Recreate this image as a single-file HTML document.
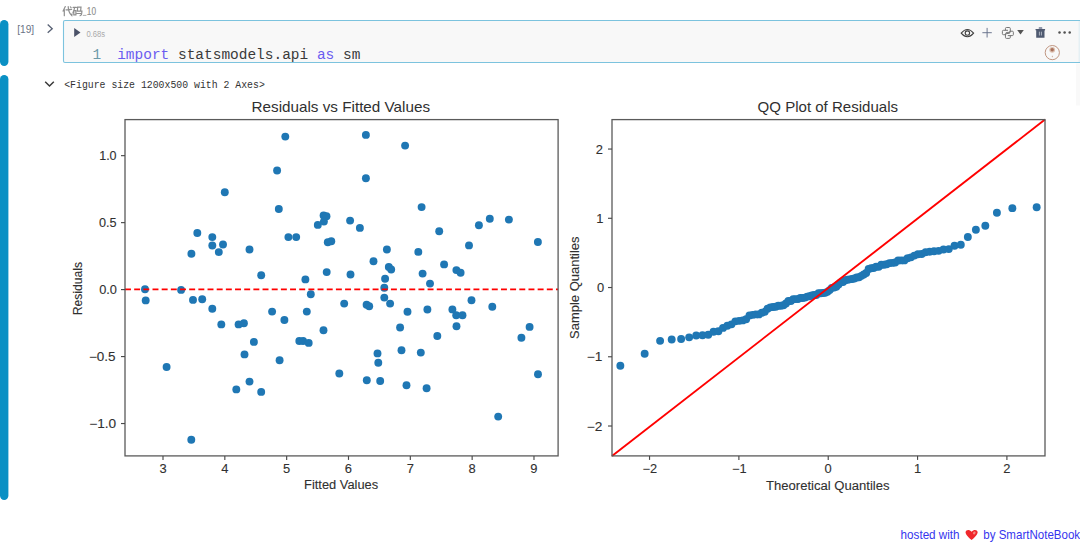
<!DOCTYPE html>
<html><head><meta charset="utf-8"><title>notebook</title>
<style>
html,body{margin:0;padding:0;background:#fff;width:1080px;height:543px;overflow:hidden;}
svg{position:absolute;left:0;top:0;display:block;}
</style></head>
<body>
<svg width="1080" height="543" viewBox="0 0 1080 543">

<rect x="0" y="20" width="8.4" height="46" rx="4.2" fill="#0a90c4"/>
<rect x="0" y="75" width="8.4" height="425" rx="4.2" fill="#0a90c4"/>
<text x="17.2" y="33.1" font-family="Liberation Sans" font-size="11" fill="#6b7385" textLength="17" lengthAdjust="spacingAndGlyphs">[19]</text>
<polyline points="47.7,24.6 52.2,28.7 47.7,32.8" fill="none" stroke="#5a6376" stroke-width="1.35"/>
<g fill="none" stroke="#8e8e8e" stroke-width="1.2" stroke-linecap="round">
  <path d="M65.3,6.6 L63.1,11.1 M64.3,9.6 L64.3,15.7 M66.0,9.8 L71.6,9.3 M68.2,6.6 Q68.5,12.8 71.8,15.6 L72.0,13.9 M70.4,6.9 L71.1,7.6"/>
  <path d="M73.1,7.4 L76.2,7.4 M74.6,7.5 Q74.1,10.6 73.0,12.6 M73.8,10.7 H75.9 V14.9 H73.8 Z M77.3,7.2 H81.0 L80.7,10.3 M77.6,7.3 L77.4,11.1 H81.9 Q81.9,15.7 80.1,15.7 M76.9,13.5 H80.8"/>
</g>
<rect x="82.8" y="14.9" width="3.6" height="0.8" fill="#9a9a9a"/>
<text x="86.8" y="14.8" font-family="Liberation Sans" font-size="10" fill="#8e8e8e" stroke="#8e8e8e" stroke-width="0.15" textLength="9.2" lengthAdjust="spacingAndGlyphs">10</text>
<rect x="63.5" y="20.5" width="1030" height="42" rx="1.5" fill="#f8f8f8" stroke="#7cc3de" stroke-width="1.1"/>
<line x1="1079.2" y1="21" x2="1079.2" y2="62" stroke="#dcecf2" stroke-width="1"/>
<rect x="1076" y="63.5" width="4" height="42" fill="#f9f9f9"/>
<polygon points="74.2,28 80.5,32.5 74.2,37" fill="#4b5268"/>
<text x="86.4" y="37.3" font-family="Liberation Sans" font-size="9.2" fill="#a9a9a9" textLength="18.6" lengthAdjust="spacingAndGlyphs">0.68s</text>
<text x="92.4" y="59.4" font-family="Liberation Mono" font-size="14.47" fill="#6d9aa9">1</text>
<text x="117.2" y="59.4" font-family="Liberation Mono" font-size="14.47" fill="#3a3a3a" xml:space="preserve"><tspan fill="#6b5cf0">import</tspan> statsmodels.api <tspan fill="#6b5cf0">as</tspan> sm</text>
<!-- toolbar icons -->
<g fill="none" stroke="#404040" stroke-width="1.1">
  <path d="M961.2,33.1 Q967.4,25.8 973.6,33.1 Q967.4,40.4 961.2,33.1 Z"/>
  <circle cx="967.4" cy="33.1" r="2.2"/>
</g>
<g stroke="#66708a" stroke-width="0.95">
  <line x1="982.4" y1="32.7" x2="991.8" y2="32.7"/>
  <line x1="987.1" y1="27.9" x2="987.1" y2="37.5"/>
</g>
<g fill="none" stroke="#707070" stroke-width="0.95">
  <path d="M1005.45,30.3 V28.5 Q1005.45,27.5 1006.45,27.5 H1009.3 Q1010.3,27.5 1010.3,28.5 V31.4 Q1010.3,32.4 1009.3,32.4 H1006.9 Q1005.9,32.4 1005.9,33.4 V34.7 H1003.4 Q1002.4,34.7 1002.4,33.7 V31.3 Q1002.4,30.3 1003.4,30.3 H1008"/>
  <path d="M1010.3,35.6 V37.4 Q1010.3,38.4 1009.3,38.4 H1006.45 Q1005.45,38.4 1005.45,37.4 V34.5 Q1005.45,33.5 1006.45,33.5 H1008.85 Q1009.85,33.5 1009.85,32.5 V31.2 H1012.35 Q1013.35,31.2 1013.35,32.2 V34.6 Q1013.35,35.6 1012.35,35.6 H1007.75"/>
</g>
<polygon points="1017.2,30 1023.8,30 1020.5,34.5" fill="#555"/>
<g fill="#4f5a70">
  <rect x="1035.5" y="28.9" width="9.6" height="1.3" rx="0.3"/>
  <rect x="1038.7" y="27.2" width="3.6" height="1.6" rx="0.5" fill="#6f7890"/>
  <rect x="1036.2" y="29.8" width="8.3" height="8.0" rx="0.4"/>
</g>
<g stroke="#cfd3dc" stroke-width="0.75"><line x1="1039.4" y1="31.7" x2="1039.4" y2="35.5"/><line x1="1041.4" y1="31.7" x2="1041.4" y2="35.5"/></g>
<g fill="#505050"><circle cx="1059.5" cy="32.6" r="1.25"/><circle cx="1064.6" cy="32.6" r="1.25"/><circle cx="1069.7" cy="32.6" r="1.25"/></g>
<circle cx="1052.3" cy="52.6" r="7.1" fill="none" stroke="#b98a73" stroke-width="0.9"/>
<circle cx="1052.2" cy="49.8" r="2.9" fill="#dcc0b0"/>
<circle cx="1052.2" cy="49.8" r="1.7" fill="#a8705a"/>
<rect x="1051.9" y="55.8" width="0.7" height="1.4" fill="#b98a73"/>
<polyline points="45.2,81.8 49.5,86 53.8,81.8" fill="none" stroke="#3a3a3a" stroke-width="1.5"/>
<text x="64.2" y="87.9" font-family="Liberation Mono" font-size="11" fill="#333" textLength="200.6" lengthAdjust="spacingAndGlyphs">&lt;Figure size 1200x500 with 2 Axes&gt;</text>
<text x="900.6" y="538.5" font-family="Liberation Sans" font-size="12.2" fill="#3535ee" textLength="59" lengthAdjust="spacingAndGlyphs">hosted with</text>
<path d="M971.6,540 C966,535.5 965.4,533.2 965.6,532 C965.9,529.6 969.4,529 971.6,531.8 C973.8,529 977.3,529.6 977.6,532 C977.8,533.2 977.2,535.5 971.6,540 Z" fill="#f0282c"/>
<ellipse cx="974.3" cy="532.9" rx="1.2" ry="1.5" fill="#f48a80" transform="rotate(30 974.3 532.9)"/>
<text x="983.3" y="538.5" font-family="Liberation Sans" font-size="12.2" fill="#3535ee" textLength="96.8" lengthAdjust="spacingAndGlyphs">by SmartNoteBook</text>

<circle cx="285.30" cy="136.60" r="3.95" fill="#1f77b4"/>
<circle cx="277.10" cy="170.50" r="3.95" fill="#1f77b4"/>
<circle cx="224.80" cy="192.20" r="3.95" fill="#1f77b4"/>
<circle cx="278.80" cy="209.00" r="3.95" fill="#1f77b4"/>
<circle cx="323.60" cy="215.40" r="3.95" fill="#1f77b4"/>
<circle cx="326.50" cy="216.20" r="3.95" fill="#1f77b4"/>
<circle cx="323.90" cy="221.60" r="3.95" fill="#1f77b4"/>
<circle cx="317.80" cy="224.90" r="3.95" fill="#1f77b4"/>
<circle cx="350.10" cy="220.60" r="3.95" fill="#1f77b4"/>
<circle cx="365.90" cy="134.90" r="3.95" fill="#1f77b4"/>
<circle cx="405.10" cy="145.60" r="3.95" fill="#1f77b4"/>
<circle cx="365.90" cy="178.20" r="3.95" fill="#1f77b4"/>
<circle cx="421.60" cy="207.10" r="3.95" fill="#1f77b4"/>
<circle cx="359.90" cy="227.90" r="3.95" fill="#1f77b4"/>
<circle cx="439.20" cy="231.30" r="3.95" fill="#1f77b4"/>
<circle cx="478.90" cy="225.30" r="3.95" fill="#1f77b4"/>
<circle cx="489.80" cy="218.80" r="3.95" fill="#1f77b4"/>
<circle cx="508.90" cy="219.60" r="3.95" fill="#1f77b4"/>
<circle cx="197.30" cy="233.00" r="3.95" fill="#1f77b4"/>
<circle cx="212.30" cy="237.10" r="3.95" fill="#1f77b4"/>
<circle cx="212.30" cy="245.50" r="3.95" fill="#1f77b4"/>
<circle cx="223.00" cy="244.50" r="3.95" fill="#1f77b4"/>
<circle cx="218.80" cy="252.10" r="3.95" fill="#1f77b4"/>
<circle cx="191.40" cy="253.80" r="3.95" fill="#1f77b4"/>
<circle cx="249.50" cy="249.50" r="3.95" fill="#1f77b4"/>
<circle cx="288.40" cy="237.10" r="3.95" fill="#1f77b4"/>
<circle cx="296.20" cy="237.10" r="3.95" fill="#1f77b4"/>
<circle cx="327.80" cy="242.30" r="3.95" fill="#1f77b4"/>
<circle cx="331.30" cy="241.30" r="3.95" fill="#1f77b4"/>
<circle cx="261.20" cy="275.20" r="3.95" fill="#1f77b4"/>
<circle cx="305.40" cy="279.40" r="3.95" fill="#1f77b4"/>
<circle cx="326.70" cy="272.10" r="3.95" fill="#1f77b4"/>
<circle cx="350.50" cy="274.50" r="3.95" fill="#1f77b4"/>
<circle cx="145.00" cy="289.30" r="3.95" fill="#1f77b4"/>
<circle cx="145.70" cy="300.40" r="3.95" fill="#1f77b4"/>
<circle cx="181.10" cy="289.90" r="3.95" fill="#1f77b4"/>
<circle cx="193.00" cy="299.90" r="3.95" fill="#1f77b4"/>
<circle cx="202.20" cy="299.30" r="3.95" fill="#1f77b4"/>
<circle cx="212.30" cy="308.70" r="3.95" fill="#1f77b4"/>
<circle cx="221.30" cy="324.40" r="3.95" fill="#1f77b4"/>
<circle cx="238.60" cy="324.40" r="3.95" fill="#1f77b4"/>
<circle cx="243.90" cy="323.30" r="3.95" fill="#1f77b4"/>
<circle cx="272.10" cy="311.60" r="3.95" fill="#1f77b4"/>
<circle cx="284.40" cy="320.00" r="3.95" fill="#1f77b4"/>
<circle cx="310.80" cy="294.30" r="3.95" fill="#1f77b4"/>
<circle cx="306.80" cy="311.60" r="3.95" fill="#1f77b4"/>
<circle cx="344.20" cy="303.60" r="3.95" fill="#1f77b4"/>
<circle cx="323.50" cy="330.20" r="3.95" fill="#1f77b4"/>
<circle cx="537.90" cy="242.00" r="3.95" fill="#1f77b4"/>
<circle cx="386.90" cy="249.50" r="3.95" fill="#1f77b4"/>
<circle cx="418.30" cy="251.90" r="3.95" fill="#1f77b4"/>
<circle cx="469.00" cy="245.40" r="3.95" fill="#1f77b4"/>
<circle cx="373.50" cy="261.30" r="3.95" fill="#1f77b4"/>
<circle cx="388.80" cy="266.90" r="3.95" fill="#1f77b4"/>
<circle cx="391.20" cy="269.50" r="3.95" fill="#1f77b4"/>
<circle cx="444.10" cy="264.40" r="3.95" fill="#1f77b4"/>
<circle cx="456.40" cy="270.10" r="3.95" fill="#1f77b4"/>
<circle cx="460.60" cy="272.80" r="3.95" fill="#1f77b4"/>
<circle cx="422.60" cy="273.60" r="3.95" fill="#1f77b4"/>
<circle cx="385.10" cy="278.70" r="3.95" fill="#1f77b4"/>
<circle cx="430.00" cy="283.60" r="3.95" fill="#1f77b4"/>
<circle cx="384.30" cy="287.70" r="3.95" fill="#1f77b4"/>
<circle cx="384.30" cy="297.60" r="3.95" fill="#1f77b4"/>
<circle cx="390.10" cy="303.60" r="3.95" fill="#1f77b4"/>
<circle cx="366.60" cy="304.80" r="3.95" fill="#1f77b4"/>
<circle cx="369.20" cy="306.20" r="3.95" fill="#1f77b4"/>
<circle cx="407.50" cy="311.80" r="3.95" fill="#1f77b4"/>
<circle cx="427.40" cy="309.50" r="3.95" fill="#1f77b4"/>
<circle cx="452.40" cy="309.40" r="3.95" fill="#1f77b4"/>
<circle cx="456.20" cy="315.30" r="3.95" fill="#1f77b4"/>
<circle cx="462.50" cy="315.20" r="3.95" fill="#1f77b4"/>
<circle cx="471.50" cy="300.20" r="3.95" fill="#1f77b4"/>
<circle cx="492.30" cy="306.80" r="3.95" fill="#1f77b4"/>
<circle cx="400.10" cy="327.50" r="3.95" fill="#1f77b4"/>
<circle cx="456.50" cy="326.20" r="3.95" fill="#1f77b4"/>
<circle cx="529.60" cy="326.90" r="3.95" fill="#1f77b4"/>
<circle cx="253.90" cy="341.90" r="3.95" fill="#1f77b4"/>
<circle cx="299.30" cy="341.00" r="3.95" fill="#1f77b4"/>
<circle cx="303.10" cy="341.00" r="3.95" fill="#1f77b4"/>
<circle cx="308.70" cy="342.90" r="3.95" fill="#1f77b4"/>
<circle cx="244.50" cy="354.40" r="3.95" fill="#1f77b4"/>
<circle cx="279.60" cy="360.20" r="3.95" fill="#1f77b4"/>
<circle cx="166.60" cy="367.00" r="3.95" fill="#1f77b4"/>
<circle cx="339.30" cy="373.50" r="3.95" fill="#1f77b4"/>
<circle cx="249.50" cy="381.60" r="3.95" fill="#1f77b4"/>
<circle cx="236.30" cy="389.40" r="3.95" fill="#1f77b4"/>
<circle cx="261.20" cy="391.90" r="3.95" fill="#1f77b4"/>
<circle cx="191.30" cy="439.80" r="3.95" fill="#1f77b4"/>
<circle cx="437.30" cy="336.00" r="3.95" fill="#1f77b4"/>
<circle cx="521.40" cy="337.70" r="3.95" fill="#1f77b4"/>
<circle cx="377.50" cy="353.40" r="3.95" fill="#1f77b4"/>
<circle cx="378.30" cy="362.80" r="3.95" fill="#1f77b4"/>
<circle cx="401.50" cy="350.30" r="3.95" fill="#1f77b4"/>
<circle cx="420.80" cy="352.60" r="3.95" fill="#1f77b4"/>
<circle cx="366.80" cy="380.20" r="3.95" fill="#1f77b4"/>
<circle cx="380.20" cy="381.00" r="3.95" fill="#1f77b4"/>
<circle cx="406.50" cy="385.20" r="3.95" fill="#1f77b4"/>
<circle cx="426.60" cy="388.30" r="3.95" fill="#1f77b4"/>
<circle cx="538.00" cy="374.30" r="3.95" fill="#1f77b4"/>
<circle cx="498.20" cy="416.60" r="3.95" fill="#1f77b4"/>
<line x1="125.0" y1="289.35" x2="558.1" y2="289.35" stroke="#ff0000" stroke-width="1.9" stroke-dasharray="5.95 3.22"/>
<rect x="125.0" y="119.6" width="433.10" height="336.30" fill="none" stroke="#5a5a5a" stroke-width="1.3"/>
<line x1="163.00" y1="455.9" x2="163.00" y2="459.90" stroke="#4a4a4a" stroke-width="1.15"/>
<text x="163.00" y="472.60" font-family="Liberation Sans" font-size="12" fill="#303030" stroke="#303030" stroke-width="0.1" text-anchor="middle" textLength="7.20" lengthAdjust="spacingAndGlyphs" >3</text>
<line x1="224.83" y1="455.9" x2="224.83" y2="459.90" stroke="#4a4a4a" stroke-width="1.15"/>
<text x="224.83" y="472.60" font-family="Liberation Sans" font-size="12" fill="#303030" stroke="#303030" stroke-width="0.1" text-anchor="middle" textLength="7.20" lengthAdjust="spacingAndGlyphs" >4</text>
<line x1="286.66" y1="455.9" x2="286.66" y2="459.90" stroke="#4a4a4a" stroke-width="1.15"/>
<text x="286.66" y="472.60" font-family="Liberation Sans" font-size="12" fill="#303030" stroke="#303030" stroke-width="0.1" text-anchor="middle" textLength="7.20" lengthAdjust="spacingAndGlyphs" >5</text>
<line x1="348.49" y1="455.9" x2="348.49" y2="459.90" stroke="#4a4a4a" stroke-width="1.15"/>
<text x="348.49" y="472.60" font-family="Liberation Sans" font-size="12" fill="#303030" stroke="#303030" stroke-width="0.1" text-anchor="middle" textLength="7.20" lengthAdjust="spacingAndGlyphs" >6</text>
<line x1="410.32" y1="455.9" x2="410.32" y2="459.90" stroke="#4a4a4a" stroke-width="1.15"/>
<text x="410.32" y="472.60" font-family="Liberation Sans" font-size="12" fill="#303030" stroke="#303030" stroke-width="0.1" text-anchor="middle" textLength="7.20" lengthAdjust="spacingAndGlyphs" >7</text>
<line x1="472.15" y1="455.9" x2="472.15" y2="459.90" stroke="#4a4a4a" stroke-width="1.15"/>
<text x="472.15" y="472.60" font-family="Liberation Sans" font-size="12" fill="#303030" stroke="#303030" stroke-width="0.1" text-anchor="middle" textLength="7.20" lengthAdjust="spacingAndGlyphs" >8</text>
<line x1="533.98" y1="455.9" x2="533.98" y2="459.90" stroke="#4a4a4a" stroke-width="1.15"/>
<text x="533.98" y="472.60" font-family="Liberation Sans" font-size="12" fill="#303030" stroke="#303030" stroke-width="0.1" text-anchor="middle" textLength="7.20" lengthAdjust="spacingAndGlyphs" >9</text>
<line x1="121.00" y1="155.66" x2="125.0" y2="155.66" stroke="#4a4a4a" stroke-width="1.15"/>
<text x="116.60" y="159.86" font-family="Liberation Sans" font-size="12" fill="#303030" stroke="#303030" stroke-width="0.1" text-anchor="end" textLength="17.40" lengthAdjust="spacingAndGlyphs" >1.0</text>
<line x1="121.00" y1="222.63" x2="125.0" y2="222.63" stroke="#4a4a4a" stroke-width="1.15"/>
<text x="116.60" y="226.83" font-family="Liberation Sans" font-size="12" fill="#303030" stroke="#303030" stroke-width="0.1" text-anchor="end" textLength="17.60" lengthAdjust="spacingAndGlyphs" >0.5</text>
<line x1="121.00" y1="289.60" x2="125.0" y2="289.60" stroke="#4a4a4a" stroke-width="1.15"/>
<text x="117.00" y="293.80" font-family="Liberation Sans" font-size="12" fill="#303030" stroke="#303030" stroke-width="0.1" text-anchor="end" textLength="17.80" lengthAdjust="spacingAndGlyphs" >0.0</text>
<line x1="121.00" y1="356.57" x2="125.0" y2="356.57" stroke="#4a4a4a" stroke-width="1.15"/>
<text x="115.60" y="360.77" font-family="Liberation Sans" font-size="12" fill="#303030" stroke="#303030" stroke-width="0.1" text-anchor="end" textLength="26.60" lengthAdjust="spacingAndGlyphs" >−0.5</text>
<line x1="121.00" y1="423.54" x2="125.0" y2="423.54" stroke="#4a4a4a" stroke-width="1.15"/>
<text x="116.20" y="427.74" font-family="Liberation Sans" font-size="12" fill="#303030" stroke="#303030" stroke-width="0.1" text-anchor="end" textLength="27.00" lengthAdjust="spacingAndGlyphs" >−1.0</text>
<text x="340.80" y="112.20" font-family="Liberation Sans" font-size="14.8" fill="#303030" stroke="#303030" stroke-width="0" text-anchor="middle" textLength="178.50" lengthAdjust="spacingAndGlyphs" >Residuals vs Fitted Values</text>
<text x="341.10" y="489.00" font-family="Liberation Sans" font-size="12" fill="#303030" stroke="#303030" stroke-width="0.1" text-anchor="middle" textLength="74.00" lengthAdjust="spacingAndGlyphs" >Fitted Values</text>
<text x="0" y="0" font-family="Liberation Sans" font-size="12" fill="#303030" stroke="#303030" stroke-width="0.1" text-anchor="middle" textLength="53.5" lengthAdjust="spacingAndGlyphs" transform="translate(81.8 288.6) rotate(-90)">Residuals</text>
<circle cx="620.35" cy="365.75" r="3.95" fill="#1f77b4"/>
<circle cx="644.67" cy="353.69" r="3.95" fill="#1f77b4"/>
<circle cx="660.10" cy="340.85" r="3.95" fill="#1f77b4"/>
<circle cx="671.70" cy="339.55" r="3.95" fill="#1f77b4"/>
<circle cx="681.14" cy="338.98" r="3.95" fill="#1f77b4"/>
<circle cx="689.17" cy="337.37" r="3.95" fill="#1f77b4"/>
<circle cx="696.21" cy="335.50" r="3.95" fill="#1f77b4"/>
<circle cx="702.51" cy="335.19" r="3.95" fill="#1f77b4"/>
<circle cx="708.24" cy="334.77" r="3.95" fill="#1f77b4"/>
<circle cx="713.52" cy="331.70" r="3.95" fill="#1f77b4"/>
<circle cx="718.42" cy="331.29" r="3.95" fill="#1f77b4"/>
<circle cx="723.01" cy="327.91" r="3.95" fill="#1f77b4"/>
<circle cx="727.34" cy="325.72" r="3.95" fill="#1f77b4"/>
<circle cx="731.44" cy="324.37" r="3.95" fill="#1f77b4"/>
<circle cx="735.35" cy="321.36" r="3.95" fill="#1f77b4"/>
<circle cx="739.09" cy="320.84" r="3.95" fill="#1f77b4"/>
<circle cx="742.67" cy="320.42" r="3.95" fill="#1f77b4"/>
<circle cx="746.13" cy="319.23" r="3.95" fill="#1f77b4"/>
<circle cx="749.46" cy="315.38" r="3.95" fill="#1f77b4"/>
<circle cx="752.69" cy="314.86" r="3.95" fill="#1f77b4"/>
<circle cx="755.82" cy="314.39" r="3.95" fill="#1f77b4"/>
<circle cx="758.87" cy="314.39" r="3.95" fill="#1f77b4"/>
<circle cx="761.83" cy="312.68" r="3.95" fill="#1f77b4"/>
<circle cx="764.73" cy="311.79" r="3.95" fill="#1f77b4"/>
<circle cx="767.56" cy="308.78" r="3.95" fill="#1f77b4"/>
<circle cx="770.33" cy="307.37" r="3.95" fill="#1f77b4"/>
<circle cx="773.04" cy="307.06" r="3.95" fill="#1f77b4"/>
<circle cx="775.70" cy="306.70" r="3.95" fill="#1f77b4"/>
<circle cx="778.32" cy="305.76" r="3.95" fill="#1f77b4"/>
<circle cx="780.90" cy="305.76" r="3.95" fill="#1f77b4"/>
<circle cx="783.43" cy="305.19" r="3.95" fill="#1f77b4"/>
<circle cx="785.93" cy="303.47" r="3.95" fill="#1f77b4"/>
<circle cx="788.40" cy="301.03" r="3.95" fill="#1f77b4"/>
<circle cx="790.84" cy="300.98" r="3.95" fill="#1f77b4"/>
<circle cx="793.25" cy="299.21" r="3.95" fill="#1f77b4"/>
<circle cx="795.63" cy="299.11" r="3.95" fill="#1f77b4"/>
<circle cx="798.00" cy="299.11" r="3.95" fill="#1f77b4"/>
<circle cx="800.34" cy="298.02" r="3.95" fill="#1f77b4"/>
<circle cx="802.66" cy="297.96" r="3.95" fill="#1f77b4"/>
<circle cx="804.96" cy="297.60" r="3.95" fill="#1f77b4"/>
<circle cx="807.25" cy="296.61" r="3.95" fill="#1f77b4"/>
<circle cx="809.52" cy="296.30" r="3.95" fill="#1f77b4"/>
<circle cx="811.78" cy="295.57" r="3.95" fill="#1f77b4"/>
<circle cx="814.04" cy="294.95" r="3.95" fill="#1f77b4"/>
<circle cx="816.28" cy="294.95" r="3.95" fill="#1f77b4"/>
<circle cx="818.51" cy="293.28" r="3.95" fill="#1f77b4"/>
<circle cx="820.74" cy="293.18" r="3.95" fill="#1f77b4"/>
<circle cx="822.96" cy="293.02" r="3.95" fill="#1f77b4"/>
<circle cx="825.18" cy="292.71" r="3.95" fill="#1f77b4"/>
<circle cx="827.40" cy="291.83" r="3.95" fill="#1f77b4"/>
<circle cx="829.62" cy="290.11" r="3.95" fill="#1f77b4"/>
<circle cx="831.84" cy="287.83" r="3.95" fill="#1f77b4"/>
<circle cx="834.06" cy="287.51" r="3.95" fill="#1f77b4"/>
<circle cx="836.28" cy="286.68" r="3.95" fill="#1f77b4"/>
<circle cx="838.51" cy="284.55" r="3.95" fill="#1f77b4"/>
<circle cx="840.74" cy="282.37" r="3.95" fill="#1f77b4"/>
<circle cx="842.98" cy="282.00" r="3.95" fill="#1f77b4"/>
<circle cx="845.24" cy="280.18" r="3.95" fill="#1f77b4"/>
<circle cx="847.50" cy="279.82" r="3.95" fill="#1f77b4"/>
<circle cx="849.77" cy="279.35" r="3.95" fill="#1f77b4"/>
<circle cx="852.06" cy="278.94" r="3.95" fill="#1f77b4"/>
<circle cx="854.36" cy="278.57" r="3.95" fill="#1f77b4"/>
<circle cx="856.68" cy="277.53" r="3.95" fill="#1f77b4"/>
<circle cx="859.02" cy="277.22" r="3.95" fill="#1f77b4"/>
<circle cx="861.39" cy="275.87" r="3.95" fill="#1f77b4"/>
<circle cx="863.77" cy="274.57" r="3.95" fill="#1f77b4"/>
<circle cx="866.18" cy="272.96" r="3.95" fill="#1f77b4"/>
<circle cx="868.62" cy="269.06" r="3.95" fill="#1f77b4"/>
<circle cx="871.09" cy="268.18" r="3.95" fill="#1f77b4"/>
<circle cx="873.59" cy="268.07" r="3.95" fill="#1f77b4"/>
<circle cx="876.12" cy="266.82" r="3.95" fill="#1f77b4"/>
<circle cx="878.70" cy="266.82" r="3.95" fill="#1f77b4"/>
<circle cx="881.32" cy="264.74" r="3.95" fill="#1f77b4"/>
<circle cx="883.98" cy="264.69" r="3.95" fill="#1f77b4"/>
<circle cx="886.69" cy="264.22" r="3.95" fill="#1f77b4"/>
<circle cx="889.46" cy="263.08" r="3.95" fill="#1f77b4"/>
<circle cx="892.29" cy="262.92" r="3.95" fill="#1f77b4"/>
<circle cx="895.19" cy="262.56" r="3.95" fill="#1f77b4"/>
<circle cx="898.15" cy="260.38" r="3.95" fill="#1f77b4"/>
<circle cx="901.20" cy="260.38" r="3.95" fill="#1f77b4"/>
<circle cx="904.33" cy="260.38" r="3.95" fill="#1f77b4"/>
<circle cx="907.56" cy="258.25" r="3.95" fill="#1f77b4"/>
<circle cx="910.89" cy="257.36" r="3.95" fill="#1f77b4"/>
<circle cx="914.35" cy="255.59" r="3.95" fill="#1f77b4"/>
<circle cx="917.93" cy="254.24" r="3.95" fill="#1f77b4"/>
<circle cx="921.67" cy="254.04" r="3.95" fill="#1f77b4"/>
<circle cx="925.58" cy="252.32" r="3.95" fill="#1f77b4"/>
<circle cx="929.68" cy="251.80" r="3.95" fill="#1f77b4"/>
<circle cx="934.01" cy="251.28" r="3.95" fill="#1f77b4"/>
<circle cx="938.60" cy="250.86" r="3.95" fill="#1f77b4"/>
<circle cx="943.50" cy="249.51" r="3.95" fill="#1f77b4"/>
<circle cx="948.78" cy="249.10" r="3.95" fill="#1f77b4"/>
<circle cx="954.51" cy="245.77" r="3.95" fill="#1f77b4"/>
<circle cx="960.81" cy="244.78" r="3.95" fill="#1f77b4"/>
<circle cx="967.85" cy="237.04" r="3.95" fill="#1f77b4"/>
<circle cx="975.88" cy="229.76" r="3.95" fill="#1f77b4"/>
<circle cx="985.32" cy="225.75" r="3.95" fill="#1f77b4"/>
<circle cx="996.92" cy="212.81" r="3.95" fill="#1f77b4"/>
<circle cx="1012.35" cy="208.13" r="3.95" fill="#1f77b4"/>
<circle cx="1036.67" cy="207.25" r="3.95" fill="#1f77b4"/>
<line x1="612.0" y1="455.9" x2="1045.0" y2="119.6" stroke="#ff0000" stroke-width="1.9"/>
<rect x="612.0" y="119.6" width="433.00" height="336.30" fill="none" stroke="#5a5a5a" stroke-width="1.3"/>
<line x1="649.54" y1="455.9" x2="649.54" y2="459.90" stroke="#4a4a4a" stroke-width="1.15"/>
<text x="649.94" y="472.80" font-family="Liberation Sans" font-size="12" fill="#303030" stroke="#303030" stroke-width="0.1" text-anchor="middle" textLength="14.60" lengthAdjust="spacingAndGlyphs" >−2</text>
<line x1="738.88" y1="455.9" x2="738.88" y2="459.90" stroke="#4a4a4a" stroke-width="1.15"/>
<text x="739.28" y="472.80" font-family="Liberation Sans" font-size="12" fill="#303030" stroke="#303030" stroke-width="0.1" text-anchor="middle" textLength="14.60" lengthAdjust="spacingAndGlyphs" >−1</text>
<line x1="828.22" y1="455.9" x2="828.22" y2="459.90" stroke="#4a4a4a" stroke-width="1.15"/>
<text x="828.22" y="472.80" font-family="Liberation Sans" font-size="12" fill="#303030" stroke="#303030" stroke-width="0.1" text-anchor="middle" textLength="7.20" lengthAdjust="spacingAndGlyphs" >0</text>
<line x1="917.56" y1="455.9" x2="917.56" y2="459.90" stroke="#4a4a4a" stroke-width="1.15"/>
<text x="917.56" y="472.80" font-family="Liberation Sans" font-size="12" fill="#303030" stroke="#303030" stroke-width="0.1" text-anchor="middle" textLength="7.20" lengthAdjust="spacingAndGlyphs" >1</text>
<line x1="1006.90" y1="455.9" x2="1006.90" y2="459.90" stroke="#4a4a4a" stroke-width="1.15"/>
<text x="1006.90" y="472.80" font-family="Liberation Sans" font-size="12" fill="#303030" stroke="#303030" stroke-width="0.1" text-anchor="middle" textLength="7.20" lengthAdjust="spacingAndGlyphs" >2</text>
<line x1="608.00" y1="426.01" x2="612.0" y2="426.01" stroke="#4a4a4a" stroke-width="1.15"/>
<text x="602.40" y="430.61" font-family="Liberation Sans" font-size="12" fill="#303030" stroke="#303030" stroke-width="0.1" text-anchor="end" textLength="15.60" lengthAdjust="spacingAndGlyphs" >−2</text>
<line x1="608.00" y1="356.77" x2="612.0" y2="356.77" stroke="#4a4a4a" stroke-width="1.15"/>
<text x="602.40" y="361.37" font-family="Liberation Sans" font-size="12" fill="#303030" stroke="#303030" stroke-width="0.1" text-anchor="end" textLength="15.60" lengthAdjust="spacingAndGlyphs" >−1</text>
<line x1="608.00" y1="287.53" x2="612.0" y2="287.53" stroke="#4a4a4a" stroke-width="1.15"/>
<text x="604.20" y="292.13" font-family="Liberation Sans" font-size="12" fill="#303030" stroke="#303030" stroke-width="0.1" text-anchor="end" textLength="7.20" lengthAdjust="spacingAndGlyphs" >0</text>
<line x1="608.00" y1="218.29" x2="612.0" y2="218.29" stroke="#4a4a4a" stroke-width="1.15"/>
<text x="603.50" y="222.89" font-family="Liberation Sans" font-size="12" fill="#303030" stroke="#303030" stroke-width="0.1" text-anchor="end" textLength="7.20" lengthAdjust="spacingAndGlyphs" >1</text>
<line x1="608.00" y1="149.05" x2="612.0" y2="149.05" stroke="#4a4a4a" stroke-width="1.15"/>
<text x="602.90" y="153.65" font-family="Liberation Sans" font-size="12" fill="#303030" stroke="#303030" stroke-width="0.1" text-anchor="end" textLength="7.20" lengthAdjust="spacingAndGlyphs" >2</text>
<text x="827.80" y="112.00" font-family="Liberation Sans" font-size="14.8" fill="#303030" stroke="#303030" stroke-width="0" text-anchor="middle" textLength="140.50" lengthAdjust="spacingAndGlyphs" >QQ Plot of Residuals</text>
<text x="827.80" y="489.80" font-family="Liberation Sans" font-size="12" fill="#303030" stroke="#303030" stroke-width="0.1" text-anchor="middle" textLength="123.50" lengthAdjust="spacingAndGlyphs" >Theoretical Quantiles</text>
<text x="0" y="0" font-family="Liberation Sans" font-size="12" fill="#303030" stroke="#303030" stroke-width="0.1" text-anchor="middle" textLength="102.5" lengthAdjust="spacingAndGlyphs" transform="translate(579.0 287.7) rotate(-90)">Sample Quantiles</text>
</svg>
</body></html>
